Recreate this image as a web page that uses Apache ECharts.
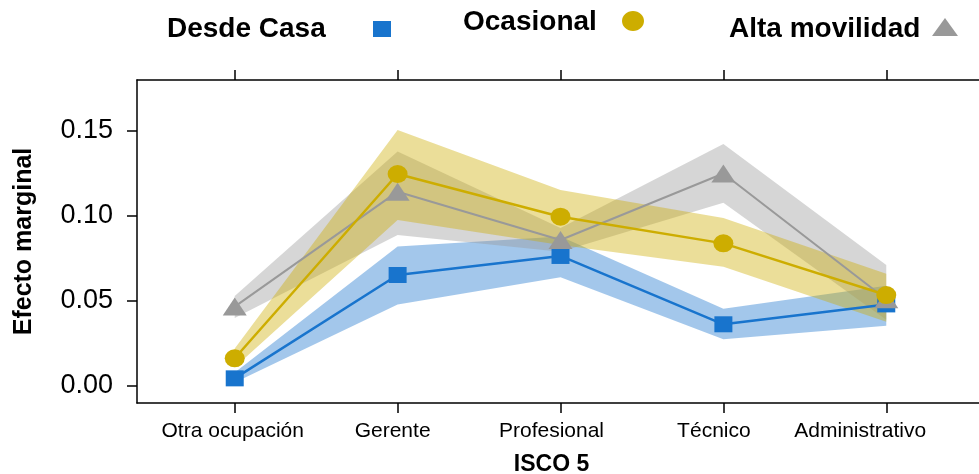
<!DOCTYPE html>
<html>
<head>
<meta charset="utf-8">
<script src="https://cdn.jsdelivr.net/npm/echarts@6/dist/echarts.min.js"></script>
<style>
  html, body { margin: 0; padding: 0; background: #ffffff; }
  #chart { width: 979px; height: 474px; }
</style>
</head>
<body>
<div id="chart"></div>
<script>
// Occupational groups (ISCO level 5)
const categories = ['Otra ocupación', 'Gerente', 'Profesional', 'Técnico', 'Administrativo'];

// Marginal effects and their confidence bands, one set per work mode
const desdeCasa    = [0.0045, 0.0653, 0.0765, 0.0363, 0.0480];
const desdeCasaLo  = [0.0020, 0.0480, 0.0640, 0.0275, 0.0355];
const desdeCasaHi  = [0.0080, 0.0820, 0.0880, 0.0455, 0.0590];

const ocasional    = [0.0163, 0.1247, 0.0996, 0.0839, 0.0535];
const ocasionalLo  = [0.0110, 0.0976, 0.0830, 0.0702, 0.0378];
const ocasionalHi  = [0.0220, 0.1506, 0.1153, 0.0988, 0.0660];

const altaMov      = [0.0467, 0.1143, 0.0859, 0.1250, 0.0510];
const altaMovLo    = [0.0400, 0.0888, 0.0790, 0.1078, 0.0390];
const altaMovHi    = [0.0530, 0.1380, 0.0930, 0.1424, 0.0712];

// Y axis tick labels
const yTicks = [0.00, 0.05, 0.10, 0.15];

const FONT = "'Liberation Sans', Arial, Helvetica, sans-serif";
const BLUE = '#1874CD';
const GOLD = '#CDAD00';
const GREY = '#999999';

const xIdx = categories.map((c, i) => i);

// Horizontal nudge (px) applied to each category label
const labelShift = [-2, -5, -9, -9.5, -26];

// Shaded confidence band drawn as one polygon in data coordinates
function band(name, lo, hi, fill) {
  return {
    type: 'custom',
    name: name,
    silent: true,
    data: xIdx.map(i => [i, lo[i], hi[i]]),
    encode: { x: 0, y: [1, 2] },
    renderItem: function (params, api) {
      if (params.dataIndex !== 0) return null;
      const upper = hi.map((v, i) => api.coord([i, v]));
      const lower = lo.map((v, i) => api.coord([i, v])).reverse();
      return {
        type: 'polygon',
        shape: { points: upper.concat(lower) },
        style: { fill: fill }
      };
    }
  };
}

function line(name, vals, color, width, symbol, size) {
  return {
    type: 'line',
    name: name,
    data: xIdx.map(i => [i, vals[i]]),
    symbol: symbol,
    symbolSize: size,
    showAllSymbol: true,
    lineStyle: { color: color, width: width },
    itemStyle: { color: color, opacity: 1 },
    emphasis: { disabled: true },
    silent: true
  };
}

const rich = {};
labelShift.forEach((s, i) => {
  rich['c' + i] = {
    fontFamily: FONT, fontSize: 21, color: '#000',
    padding: s < 0 ? [0, -2 * s, 0, 0] : [0, 0, 0, 2 * s]
  };
});

const axisLineStyle = { color: '#000', width: 1.5 };

const chart = echarts.init(document.getElementById('chart'), null, { renderer: 'canvas' });

chart.setOption({
  animation: false,
  backgroundColor: '#ffffff',
  grid: { left: 137, top: 80, width: 847, height: 323, containLabel: false, outerBoundsMode: 'none' },
  xAxis: [
    {
      type: 'value',
      position: 'bottom',
      min: -0.6, max: 4.6,
      axisLine: { show: true, onZero: false, lineStyle: axisLineStyle },
      axisTick: { show: true, customValues: xIdx, length: 10, lineStyle: axisLineStyle },
      axisLabel: {
        customValues: xIdx,
        margin: 18,
        formatter: function (v) {
          const i = Math.round(v);
          return '{c' + i + '|' + categories[i] + '}';
        },
        rich: rich
      },
      splitLine: { show: false },
      name: 'ISCO 5',
      nameLocation: 'middle',
      nameGap: 50,
      nameTextStyle: {
        fontFamily: FONT, fontSize: 23, fontWeight: 'bold', color: '#000',
        padding: [0, 18, 0, 0]
      }
    },
    {
      type: 'value',
      position: 'top',
      min: -0.6, max: 4.6,
      axisLine: { show: true, onZero: false, lineStyle: axisLineStyle },
      axisTick: { show: true, customValues: xIdx, length: 10, lineStyle: axisLineStyle },
      axisLabel: { show: false },
      splitLine: { show: false }
    }
  ],
  yAxis: {
    type: 'value',
    min: -0.01, max: 0.18,
    axisLine: { show: true, onZero: false, lineStyle: axisLineStyle },
    axisTick: { show: true, customValues: yTicks, length: 10, lineStyle: axisLineStyle },
    axisLabel: {
      customValues: yTicks,
      margin: 24,
      formatter: v => v.toFixed(2),
      fontFamily: FONT, fontSize: 27, color: '#000'
    },
    splitLine: { show: false },
    name: 'Efecto marginal',
    nameLocation: 'middle',
    nameRotate: 90,
    nameGap: 100,
    nameTextStyle: { fontFamily: FONT, fontSize: 25, fontWeight: 'bold', color: '#000' }
  },
  series: [
    band('Desde Casa IC', desdeCasaLo, desdeCasaHi, 'rgba(24,116,205,0.4)'),
    line('Desde Casa', desdeCasa, BLUE, 2.5, 'rect', [18, 16]),
    band('Alta movilidad IC', altaMovLo, altaMovHi, 'rgba(153,153,153,0.4)'),
    line('Alta movilidad', altaMov, GREY, 2, 'triangle', [24, 18]),
    band('Ocasional IC', ocasionalLo, ocasionalHi, 'rgba(205,173,0,0.4)'),
    line('Ocasional', ocasional, GOLD, 2.5, 'circle', [20, 18])
  ],
  graphic: [
    { type: 'text', x: 167, y: 29, style: { text: 'Desde Casa', font: 'bold 28px ' + FONT, fill: '#000', verticalAlign: 'middle' } },
    { type: 'rect', shape: { x: 373, y: 21, width: 18, height: 16 }, style: { fill: BLUE } },
    { type: 'text', x: 463, y: 22, style: { text: 'Ocasional', font: 'bold 28px ' + FONT, fill: '#000', verticalAlign: 'middle' } },
    { type: 'ellipse', shape: { cx: 633, cy: 21, rx: 11, ry: 10 }, style: { fill: GOLD } },
    { type: 'text', x: 729, y: 29, style: { text: 'Alta movilidad', font: 'bold 28px ' + FONT, fill: '#000', verticalAlign: 'middle' } },
    { type: 'polygon', shape: { points: [[932, 36], [958, 36], [945, 18]] }, style: { fill: GREY } }
  ]
});
</script>
</body>
</html>
